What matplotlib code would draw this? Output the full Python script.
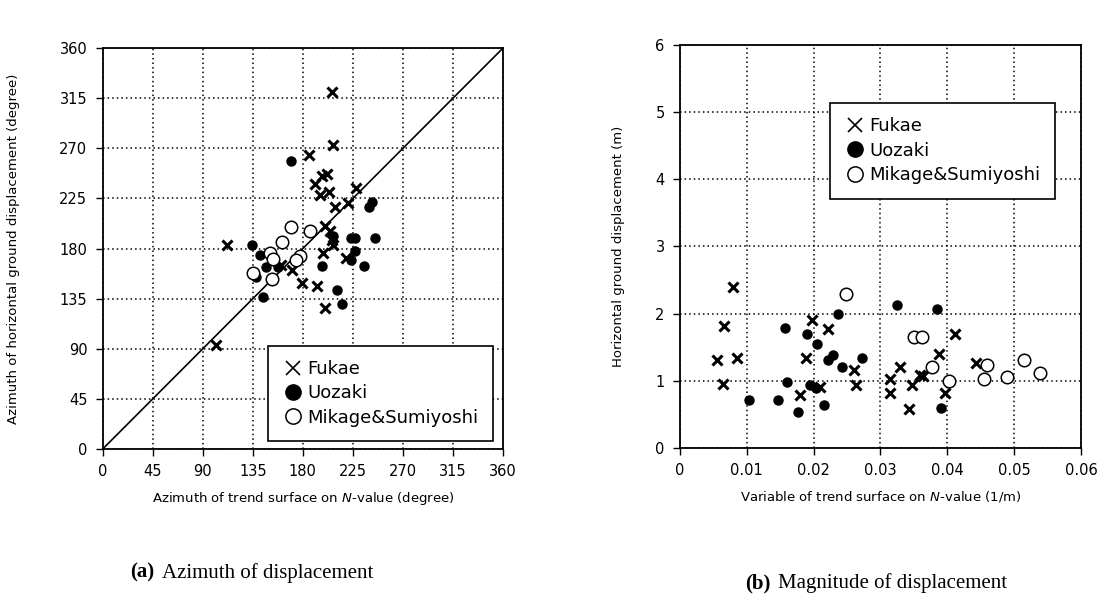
import matplotlib.pyplot as plt

# (a) azimuth data: trend surface azimuth vs displacement azimuth (degree)
fukae_az_x = [205.8, 207.3, 185.1, 196.8, 201.9, 190.8, 195.3, 203.7, 228.2, 220.7, 208.7,
              199.8, 204.3, 206.6, 207.3, 111.4, 198.3, 219.2, 160.0, 169.9, 178.9, 192.4,
              199.8, 101.8]
fukae_az_y = [320.2, 272.6, 263.6, 244.8, 247.1, 238.2, 227.7, 230.7, 234.3, 220.8, 216.9,
              199.9, 196.0, 187.9, 183.4, 182.8, 175.9, 171.4, 165.4, 161.0, 149.0, 146.6,
              126.6, 93.0]
uozaki_az_x = [169.2, 239.6, 242.6, 223.7, 226.7, 244.7, 134.5, 206.7, 226.7, 223.7, 141.4,
               146.8, 196.8, 234.8, 135.4, 137.8, 211.1, 144.4, 215.3, 157.8]
uozaki_az_y = [258.8, 216.9, 221.4, 189.4, 189.4, 189.4, 182.8, 190.9, 177.4, 170.0, 174.4,
               163.4, 164.6, 164.0, 158.6, 154.4, 143.0, 136.1, 130.5, 163.4]
mikage_az_x = [169.8, 186.3, 161.4, 150.4, 153.3, 177.3, 173.7, 152.7, 135.4]
mikage_az_y = [199.0, 195.4, 186.1, 175.9, 170.5, 172.9, 169.3, 152.6, 158.0]

# (b) magnitude data: trend surface variable (1/m) vs displacement (m)
fukae_mag_x = [0.0079, 0.0066, 0.0056, 0.0086, 0.0065, 0.0197, 0.0221, 0.0189, 0.0179, 0.0210,
               0.0260, 0.0263, 0.0314, 0.0315, 0.0329, 0.0347, 0.0343, 0.0359, 0.0363, 0.0387,
               0.0397, 0.0412, 0.0443]
fukae_mag_y = [2.39, 1.82, 1.31, 1.34, 0.95, 1.91, 1.77, 1.34, 0.79, 0.91,
               1.16, 0.94, 1.03, 0.82, 1.21, 0.94, 0.58, 1.09, 1.07, 1.40,
               0.82, 1.69, 1.27]
uozaki_mag_x = [0.0157, 0.0190, 0.0205, 0.0160, 0.0104, 0.0147, 0.0177, 0.0216, 0.0237, 0.0229,
                0.0221, 0.0243, 0.0273, 0.0194, 0.0204, 0.0325, 0.0385, 0.0390]
uozaki_mag_y = [1.79, 1.70, 1.55, 0.98, 0.71, 0.71, 0.53, 0.64, 2.00, 1.39,
                1.31, 1.20, 1.34, 0.94, 0.89, 2.13, 2.07, 0.59]
mikage_mag_x = [0.0249, 0.0350, 0.0362, 0.0377, 0.0403, 0.0455, 0.0460, 0.0490, 0.0515, 0.0539]
mikage_mag_y = [2.29, 1.66, 1.65, 1.21, 1.00, 1.03, 1.24, 1.05, 1.31, 1.12]

az_ticks = [0, 45, 90, 135, 180, 225, 270, 315, 360]
mag_xticks = [0, 0.01, 0.02, 0.03, 0.04, 0.05, 0.06]
mag_xlabels = ['0', '0.01', '0.02', '0.03', '0.04', '0.05', '0.06']
mag_yticks = [0, 1, 2, 3, 4, 5, 6]

fig = plt.figure(figsize=(10.99, 6.16), dpi=100)
ax1 = fig.add_axes([0.0934, 0.271, 0.3643, 0.651])
ax2 = fig.add_axes([0.6187, 0.2727, 0.3649, 0.6543])


def style(ax):
    ax.grid(True, color='black', linestyle=(0, (1, 2)), linewidth=1.1)
    ax.set_axisbelow(True)
    ax.tick_params(direction='out', length=5, width=1, labelsize=10.5, pad=6)
    for s in ax.spines.values():
        s.set_linewidth(1.3)


def scatter3(ax, fx, fy, ux, uy, mx, my):
    ax.plot(fx, fy, 'x', color='black', ms=7.5, mew=2.2, label='Fukae')
    ax.plot(ux, uy, 'o', color='black', ms=6.5, label='Uozaki')
    ax.plot(mx, my, 'o', mfc='white', mec='black', ms=9, mew=1.1, label='Mikage&Sumiyoshi')


def legend(ax, **kw):
    leg = ax.legend(fontsize=13, frameon=True, fancybox=False, edgecolor='black',
                    handletextpad=0.2, borderpad=0.8, labelspacing=0.35, handlelength=1.2,
                    framealpha=1, borderaxespad=0, **kw)
    leg.get_frame().set_linewidth(1.2)
    # thin cross and bigger dots in the key, as in the original figure
    h = leg.legend_handles
    h[0].set_markeredgewidth(1.2)
    h[0].set_markersize(10)
    h[1].set_markersize(11)
    h[2].set_markersize(11)
    return leg


style(ax1)
ax1.plot([0, 360], [0, 360], color='black', lw=1.2)
scatter3(ax1, fukae_az_x, fukae_az_y, uozaki_az_x, uozaki_az_y, mikage_az_x, mikage_az_y)
ax1.set_xlim(0, 360)
ax1.set_ylim(0, 360)
ax1.set_xticks(az_ticks)
ax1.set_yticks(az_ticks)
ax1.set_xlabel('Azimuth of trend surface on $N$-value (degree)', fontsize=9.5, labelpad=8)
ax1.set_ylabel('Azimuth of horizontal ground displacement (degree)', fontsize=9.5, labelpad=28)
legend(ax1, loc='lower right', bbox_to_anchor=(0.975, 0.02))

style(ax2)
scatter3(ax2, fukae_mag_x, fukae_mag_y, uozaki_mag_x, uozaki_mag_y, mikage_mag_x, mikage_mag_y)
ax2.set_xlim(0, 0.06)
ax2.set_ylim(0, 6)
ax2.set_xticks(mag_xticks)
ax2.set_xticklabels(mag_xlabels)
ax2.set_yticks(mag_yticks)
ax2.set_xlabel('Variable of trend surface on $N$-value (1/m)', fontsize=9.5, labelpad=8)
ax2.set_ylabel('Horizontal ground displacement (m)', fontsize=9.5, labelpad=22)
legend(ax2, loc='upper left', bbox_to_anchor=(0.374, 0.856))

fig.text(0.118, 0.062, '(a)', fontsize=15, family='Liberation Serif', weight='bold', va='baseline')
fig.text(0.147, 0.062, 'Azimuth of displacement', fontsize=15, family='Liberation Serif', va='baseline')
fig.text(0.678, 0.045, '(b)', fontsize=15, family='Liberation Serif', weight='bold', va='baseline')
fig.text(0.708, 0.045, 'Magnitude of displacement', fontsize=15, family='Liberation Serif', va='baseline')

fig.savefig('out.png', dpi=100)
